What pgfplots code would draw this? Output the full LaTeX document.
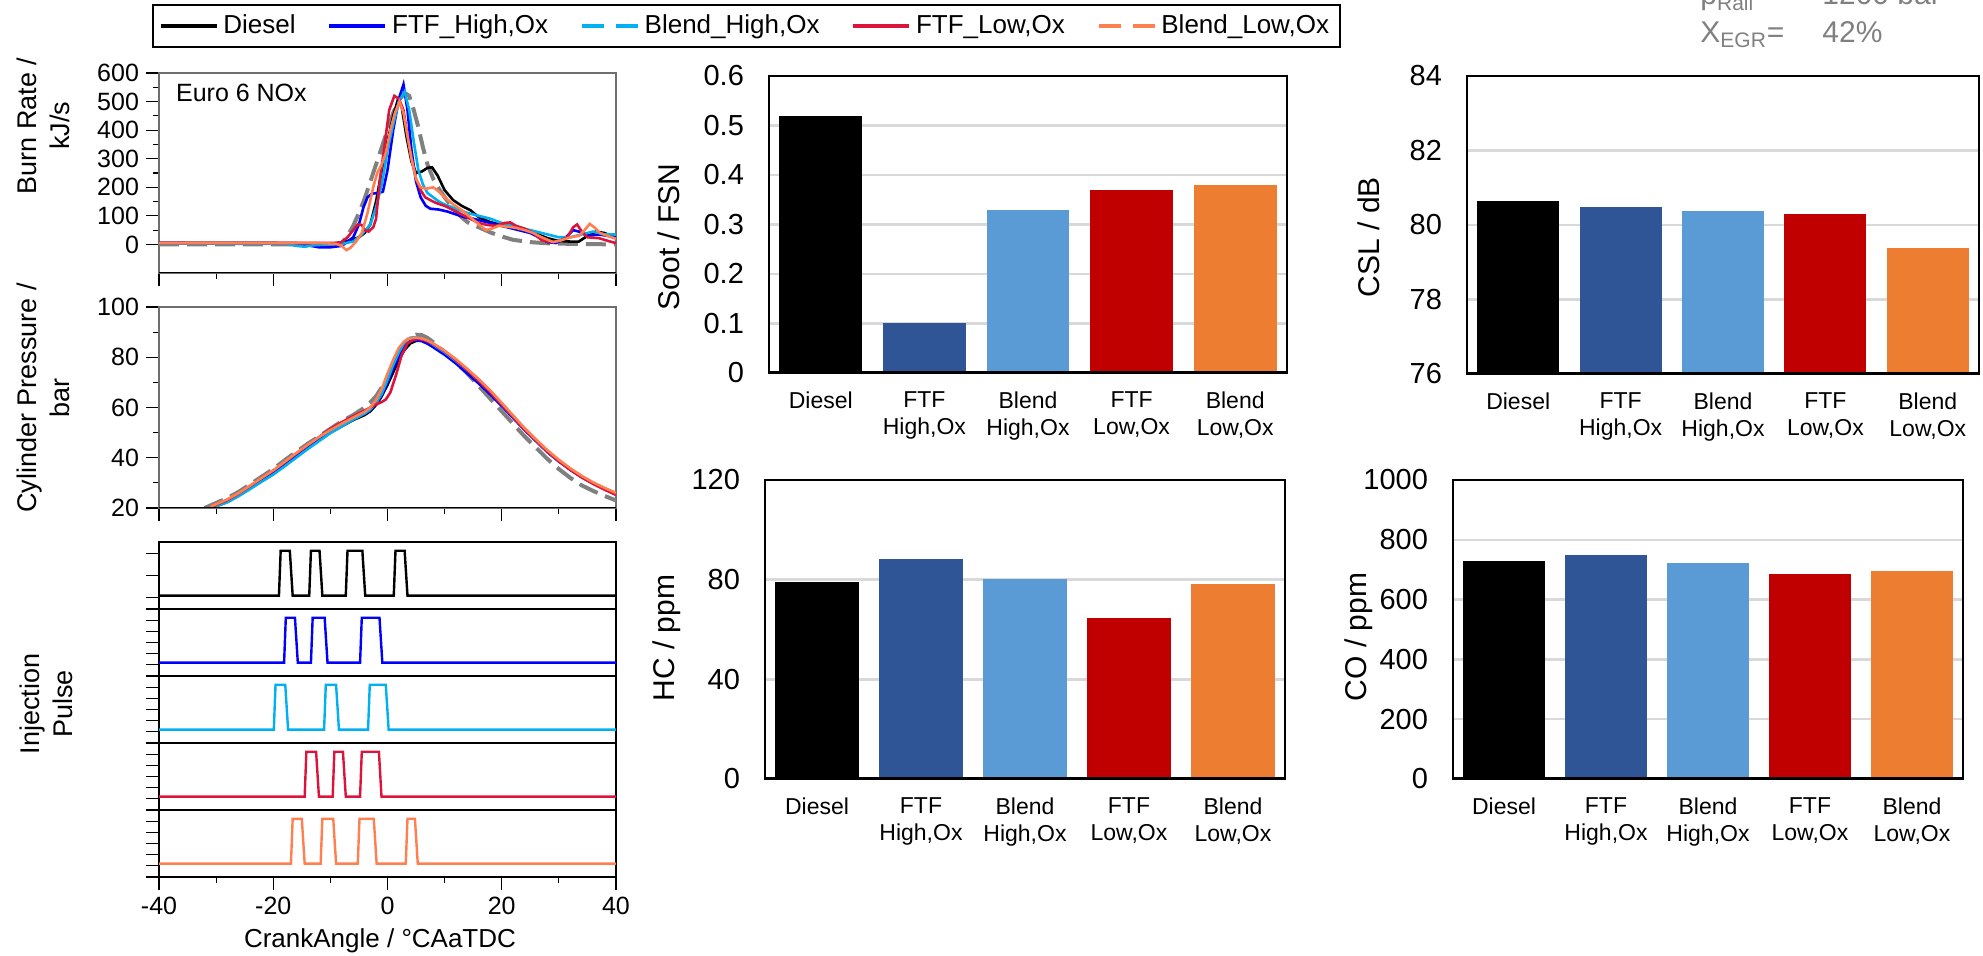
\documentclass[border=0pt]{standalone}
\usepackage{fontspec}
\setmainfont{Liberation Sans}
\usepackage{pgfplots}
\pgfplotsset{compat=1.18}

\definecolor{cFTFH}{RGB}{0,0,255}
\definecolor{cBlH}{RGB}{0,176,240}
\definecolor{cFTFL}{RGB}{220,20,60}
\definecolor{cBlL}{RGB}{255,127,80}
\definecolor{bFTFH}{RGB}{47,85,151}
\definecolor{bBlH}{RGB}{91,155,213}
\definecolor{bFTFL}{RGB}{192,0,0}
\definecolor{bBlL}{RGB}{237,125,49}
\definecolor{refgray}{RGB}{128,128,128}
\definecolor{gridgray}{RGB}{217,217,217}
\definecolor{framegray}{RGB}{110,110,110}

\pgfplotsset{
  leftax/.style={
    scale only axis, width=228.5pt, anchor=south west,
    xmin=-40, xmax=40,
    tick align=outside, xtick pos=bottom, ytick pos=left,
    major tick length=6.5pt, minor tick length=3pt,
    xtick={-40,-20,...,40}, minor xtick={-30,-10,10,30},
    axis line style={draw=framegray, line width=0.6pt},
    every tick/.style={black, line width=0.6pt},
    tick label style={font=\fontsize{12.5}{14}\selectfont},
    /pgf/number format/assume math mode=true,
  },
  pulseax/.style={
    scale only axis, width=228.5pt, height=33.5pt, anchor=south west,
    xmin=-40, xmax=40, ymin=0, ymax=1,
    tick align=outside, ytick pos=left,
    major tick length=6.5pt,
    ytick={0,0.1667,0.3333,0.5,0.6667,0.8333}, yticklabels={},
    xtick=\empty,
    axis line style={draw=black, line width=0.6pt},
    every tick/.style={black, line width=0.6pt},
  },
  barax/.style={
    scale only axis, anchor=south west,
    xmin=-0.5, xmax=4.5, xtick={0,...,4},
    xticklabels={Diesel,{FTF\\High,Ox},{Blend\\High,Ox},{FTF\\Low,Ox},{Blend\\Low,Ox}},
    xticklabel style={align=center, font=\fontsize{11.5}{13.5}\selectfont, anchor=north, yshift=-6pt},
    yticklabel style={font=\fontsize{14.5}{16}\selectfont, xshift=-9pt},
    major tick length=0pt,
    ymajorgrids, grid style={gridgray, line width=1.2pt},
    axis line style={black, line width=1pt},
    /pgf/number format/assume math mode=true,
    /pgf/number format/1000 sep={},
  },
  mybar/.style={ybar, bar width=0.8, draw=none, fill=#1},
}

\begin{document}
\begin{tikzpicture}
\useasboundingbox (0,0) rectangle (991.5pt,-478pt);
\clip (0,0) rectangle (991.5pt,-478pt);

% ---------- burn rate ----------
\begin{axis}[leftax, at={(79.5pt,-136.5pt)}, height=100pt,
  ymin=-100, ymax=600, ytick={0,100,...,600}, minor ytick={50,150,...,550},
  xticklabels={},
  legend columns=5,
  legend image code/.code={\draw[#1] (0pt,0pt) -- (28pt,0pt);},
  legend style={at={(1.2856,1.235)}, anchor=center, draw=black, line width=0.8pt,
    font=\fontsize{13}{15}\selectfont, inner xsep=3pt, inner ysep=3.5pt,
    nodes={inner ysep=1.5pt, inner xsep=2.5pt},
    /tikz/every even column/.append style={column sep=13.5pt}},
  legend cell align=left,
]
\addplot[refgray, line width=2pt, dash pattern=on 10pt off 4pt, forget plot] coordinates {
(-40,0) (-10,0) (-8,5) (-7,30) (-6,65) (-5,110) (-4,160) (-3,220) (-2,280) (-1,340) (0,400) (1,460) (2,505) (3,530) (3.8,520) (4.6,470) (5.4,410) (6.2,340) (7,280) (8,230) (9,195) (10,165) (11,140) (12,115) (13,95) (14,78) (15,68) (16,60) (18,42) (20,28) (22,16) (25,8) (28,4) (32,2) (36,1) (40,0)};
\addplot[black, line width=1.3pt, forget plot] coordinates {
(-40,5) (-20,5) (-12,3) (-9,4) (-7,12) (-5,25) (-4,40) (-3,70) (-2,150) (-1,260) (0,360) (1,450) (1.8,505) (2.5,480) (3.3,380) (4.2,290) (5,250) (6,255) (7,268) (7.8,270) (8.8,240) (10,190) (11.5,155) (13,135) (14.5,120) (16,95) (18,78) (20,68) (22,58) (24,48) (26,38) (28,22) (30,12) (32,10) (33.5,10) (35,30) (36.5,45) (38,40) (40,22)};
\addplot[cFTFH, line width=1.3pt, forget plot] coordinates {
(-40,5) (-16,4) (-14,-3) (-12,-10) (-10,-10) (-8,-5) (-7,10) (-6,25) (-5,70) (-4.2,130) (-3.5,165) (-2.7,178) (-1.5,180) (-0.8,185) (0,260) (1,400) (2,510) (2.8,560) (3.5,470) (4.2,330) (5,220) (5.8,165) (6.7,135) (7.5,125) (9,122) (10.5,115) (12,105) (13.5,95) (15,90) (17,80) (19,70) (21,60) (23,50) (25,40) (26.5,25) (28,8) (29.5,5) (31,20) (32.5,50) (33.5,45) (35,30) (37,35) (38.5,30) (40,25)};
\addplot[cBlH, line width=1.3pt, forget plot] coordinates {
(-40,3) (-18,2) (-16,-5) (-14.5,-8) (-13,-3) (-10,0) (-8,2) (-6,10) (-4.5,35) (-3,70) (-2,130) (-1,210) (0,330) (1,420) (2,500) (3,535) (3.8,470) (4.6,360) (5.4,260) (6.2,210) (7,180) (8,165) (9,150) (10,140) (12,125) (14,110) (16,100) (18,90) (20,75) (22,65) (24,55) (26,45) (28,35) (30,25) (32,25) (34,35) (36,45) (38,35) (40,35)};
\addplot[cFTFL, line width=1.3pt, forget plot] coordinates {
(-40,5) (-12,5) (-9,5) (-8,8) (-7,25) (-6,50) (-5.2,70) (-4.5,68) (-4,50) (-3.3,45) (-2.5,60) (-2,90) (-1.3,230) (-0.5,350) (0.3,470) (1.2,520) (2,510) (2.8,470) (3.5,380) (4.3,290) (5,230) (5.8,190) (6.6,165) (7.5,155) (8.5,145) (10,135) (11.5,120) (13,105) (14.5,90) (16,75) (17.5,68) (19,65) (20.5,75) (21.5,77) (22.5,65) (24,55) (25.5,40) (27,15) (28.5,8) (30,12) (31.5,25) (32.5,60) (33.2,70) (34,45) (35,25) (37,22) (39,10) (40,5)};
\addplot[cBlL, line width=1.3pt, forget plot] coordinates {
(-40,5) (-12,5) (-9,2) (-8,-5) (-7.2,-20) (-6.5,-12) (-5.5,10) (-4.5,40) (-3.5,110) (-2.5,200) (-1.8,250) (-1,280) (-0.3,320) (0.5,400) (1.3,460) (2.1,500) (2.8,460) (3.5,380) (4.2,300) (5,230) (5.8,200) (6.8,195) (8,200) (9,185) (10,165) (11.5,140) (13,120) (14.5,95) (16,70) (17.2,50) (18.2,55) (19.5,65) (21,62) (22.5,58) (24,50) (25.5,40) (27,25) (29,8) (30.5,15) (32,25) (33.5,30) (34.5,50) (35.4,72) (36.2,60) (37.2,40) (38.5,30) (40,20)};
\addlegendimage{black, line width=1.75pt}
\addlegendentry{Diesel}
\addlegendimage{cFTFH, line width=1.75pt}
\addlegendentry{FTF\_High,Ox}
\addlegendimage{cBlH, line width=1.75pt, dash pattern=on 11pt off 6pt}
\addlegendentry{Blend\_High,Ox}
\addlegendimage{cFTFL, line width=1.75pt}
\addlegendentry{FTF\_Low,Ox}
\addlegendimage{cBlL, line width=1.75pt, dash pattern=on 11pt off 6pt}
\addlegendentry{Blend\_Low,Ox}
\draw[black, line width=1pt] (rel axis cs:0,0) -- (rel axis cs:1,0);
\node[anchor=base west, font=\fontsize{12.5}{14}\selectfont] at (rel axis cs:0.022,0.8565) {Euro 6 NOx};
\end{axis}

% ---------- cylinder pressure ----------
\begin{axis}[leftax, at={(79.5pt,-254pt)}, height=100.5pt,
  ymin=20, ymax=100, ytick={20,40,...,100}, minor ytick={30,50,70,90},
  xticklabels={},
]
\addplot[refgray, line width=2pt, dash pattern=on 10pt off 4pt] coordinates {
(-32,20) (-31,21) (-28,24) (-26,26.5) (-24,29.5) (-22,32.5) (-20,35.5) (-18,39) (-16,42.3) (-14,45.5) (-12,48.5) (-10,51.5) (-8,54.5) (-6,57) (-4,60) (-3,62) (-2,64.5) (-1,68) (0,72) (1,77) (2,82) (3,85.5) (4,88) (5,89) (6,88.8) (7,87.7) (8,86) (10,82) (12,78) (14,73.5) (16,68.5) (18,63.5) (20,58.5) (22,53.5) (24,48.5) (26,44) (28,39.5) (30,35.5) (32,32) (34,29) (36,26.8) (38,24.8) (40,23)};
\addplot[black, line width=1.3pt] coordinates {
(-31,19.8) (-28,22.5) (-26,25) (-24,28) (-22,31) (-20,34) (-18,37.3) (-16,40.7) (-14,44) (-12,47) (-10,50) (-8,52.5) (-6,55) (-4,57) (-3,58.5) (-2,61) (-1,64.5) (0,69) (1,74) (2,79) (3,83) (4,85.5) (5,86.5) (6,86.8) (7,86.3) (8,85.2) (10,82.3) (12,78.8) (14,75) (16,71) (18,66.5) (20,61.5) (22,56.5) (24,51.5) (26,47) (28,42.5) (30,38.8) (32,35.5) (34,32.5) (36,30) (38,27.8) (40,25.8)};
\addplot[cFTFH, line width=1.3pt] coordinates {
(-31,20.2) (-28,23) (-26,25.5) (-24,28.5) (-22,31.5) (-20,34.5) (-18,37.8) (-16,41.2) (-14,44.5) (-12,47.5) (-10,50.5) (-8,53) (-6,55.5) (-4,57.5) (-3,59) (-2,61.5) (-1,65) (0,70) (1,75.5) (2,80.5) (3,84.5) (4,86.3) (5,86.8) (6,86.4) (7,85.4) (8,84) (10,81) (12,77.5) (14,73.5) (16,69.5) (18,65.2) (20,60.6) (22,55.8) (24,51) (26,46.6) (28,42.2) (30,38.5) (32,35.2) (34,32.2) (36,29.8) (38,27.6) (40,25.5)};
\addplot[cBlH, line width=1.3pt] coordinates {
(-31,19.8) (-28,22.3) (-26,24.8) (-24,27.6) (-22,30.5) (-20,33.3) (-18,36.6) (-16,40) (-14,43.4) (-12,46.6) (-10,49.8) (-8,52.5) (-6,55.2) (-4,57.6) (-3,59.2) (-2,61.8) (-1,65.5) (0,71) (1,77) (2,82) (3,86) (4,87.8) (5,88) (6,87.5) (7,86.5) (8,85) (10,82) (12,78.5) (14,74.8) (16,70.8) (18,66.3) (20,61.3) (22,56.3) (24,51.3) (26,46.8) (28,42.4) (30,38.7) (32,35.4) (34,32.4) (36,29.9) (38,27.7) (40,25.6)};
\addplot[cFTFL, line width=1.3pt] coordinates {
(-31,20.3) (-28,23.2) (-26,25.8) (-24,28.8) (-22,31.9) (-20,34.9) (-18,38.2) (-16,41.6) (-14,45) (-12,48.2) (-10,51.5) (-8,54.2) (-6,56.5) (-4,58.8) (-3,60) (-2,61.2) (-1,62.2) (-0.3,63.2) (0.5,66) (1.5,73) (2.5,81) (3.5,85.5) (4.5,87) (5.5,87.3) (6.5,86.8) (8,85.3) (10,82.4) (12,78.8) (14,74.8) (16,70.6) (18,66.1) (20,61.2) (22,56.2) (24,51.2) (26,46.8) (28,42.4) (30,38.6) (32,35.2) (34,32.2) (36,29.6) (38,27.3) (40,25.2)};
\addplot[cBlL, line width=1.3pt] coordinates {
(-31,20.5) (-28,23.5) (-26,26) (-24,29) (-22,32) (-20,35) (-18,38.4) (-16,41.8) (-14,45.1) (-12,48.2) (-10,51) (-8,53.6) (-6,56) (-4,58.3) (-3,60) (-2,63) (-1,67.5) (0,73.5) (1,79) (2,83.8) (3,86.5) (4,87.6) (5,87.8) (6,87.5) (7,86.7) (8,85.5) (10,82.6) (12,79.2) (14,75.3) (16,71.2) (18,66.8) (20,61.8) (22,56.8) (24,51.8) (26,47.3) (28,43) (30,39.2) (32,35.8) (34,32.8) (36,30.2) (38,28) (40,26)};
\draw[black, line width=1pt] (rel axis cs:0,0) -- (rel axis cs:1,0);
\end{axis}

% ---------- injection pulses ----------
\begin{axis}[pulseax, at={(79.5pt,-304.5pt)}, ytick={0,0.1667,0.5,0.8333}]
\addplot[black, line width=1.2pt] coordinates {
(-40,0.2) (-19.0,0.2) (-18.7,0.87) (-17.1,0.87) (-16.6,0.2) (-13.7,0.2) (-13.4,0.87) (-11.9,0.87) (-11.4,0.2) (-7.3,0.2) (-7.0,0.87) (-4.4,0.87) (-3.9,0.2) (1.1,0.2) (1.4,0.87) (3.0,0.87) (3.5,0.2) (40,0.2)};
\end{axis}
\begin{axis}[pulseax, at={(79.5pt,-338pt)}]
\addplot[cFTFH, line width=1.2pt] coordinates {
(-40,0.2) (-18.1,0.2) (-17.8,0.87) (-16.2,0.87) (-15.7,0.2) (-13.4,0.2) (-13.1,0.87) (-11.0,0.87) (-10.5,0.2) (-4.8,0.2) (-4.5,0.87) (-1.4,0.87) (-0.9,0.2) (40,0.2)};
\end{axis}
\begin{axis}[pulseax, at={(79.5pt,-371.5pt)}]
\addplot[cBlH, line width=1.2pt] coordinates {
(-40,0.2) (-19.9,0.2) (-19.6,0.87) (-17.9,0.87) (-17.4,0.2) (-11.1,0.2) (-10.8,0.87) (-9.0,0.87) (-8.5,0.2) (-3.4,0.2) (-3.1,0.87) (-0.3,0.87) (0.2,0.2) (40,0.2)};
\end{axis}
\begin{axis}[pulseax, at={(79.5pt,-405pt)}]
\addplot[cFTFL, line width=1.2pt] coordinates {
(-40,0.2) (-14.5,0.2) (-14.2,0.87) (-12.5,0.87) (-12.0,0.2) (-9.6,0.2) (-9.3,0.87) (-7.8,0.87) (-7.3,0.2) (-4.8,0.2) (-4.5,0.87) (-1.5,0.87) (-1.05,0.2) (40,0.2)};
\end{axis}
\begin{axis}[pulseax, at={(79.5pt,-438.5pt)},
  xtick={-40,-20,...,40}, minor xtick={-30,-10,10,30}, xtick pos=bottom,
  minor tick length=3pt,
  xticklabel style={font=\fontsize{12.5}{14}\selectfont},
  /pgf/number format/assume math mode=true]
\addplot[cBlL, line width=1.2pt] coordinates {
(-40,0.2) (-16.9,0.2) (-16.6,0.87) (-15.0,0.87) (-14.5,0.2) (-11.7,0.2) (-11.4,0.87) (-9.5,0.87) (-9.0,0.2) (-5.2,0.2) (-4.9,0.87) (-2.4,0.87) (-1.9,0.2) (3.2,0.2) (3.5,0.87) (4.8,0.87) (5.3,0.2) (40,0.2)};
\end{axis}

% ---------- soot ----------
\begin{axis}[barax, at={(384.5pt,-186.5pt)}, width=259pt, height=148.5pt,
  ymin=0, ymax=0.6, ytick={0,0.1,0.2,0.3,0.4,0.5,0.6}]
\addplot[mybar=black] coordinates {(0,0.52)};
\addplot[mybar=bFTFH] coordinates {(1,0.10)};
\addplot[mybar=bBlH] coordinates {(2,0.33)};
\addplot[mybar=bFTFL] coordinates {(3,0.37)};
\addplot[mybar=bBlL] coordinates {(4,0.38)};
\draw[black, line width=1pt] (rel axis cs:0,0) rectangle (rel axis cs:1,1);
\draw[black, line width=1.5pt] (rel axis cs:0,0) -- (rel axis cs:1,0);
\end{axis}

% ---------- CSL ----------
\begin{axis}[barax, at={(733.5pt,-187pt)}, width=256pt, height=149pt,
  ymin=76, ymax=84, ytick={76,78,80,82,84}]
\addplot[mybar=black] coordinates {(0,80.65)};
\addplot[mybar=bFTFH] coordinates {(1,80.49)};
\addplot[mybar=bBlH] coordinates {(2,80.38)};
\addplot[mybar=bFTFL] coordinates {(3,80.30)};
\addplot[mybar=bBlL] coordinates {(4,79.39)};
\draw[black, line width=1pt] (rel axis cs:0,0) rectangle (rel axis cs:1,1);
\draw[black, line width=1.5pt] (rel axis cs:0,0) -- (rel axis cs:1,0);
\end{axis}

% ---------- HC ----------
\begin{axis}[barax, at={(382.5pt,-389.5pt)}, width=260pt, height=149.5pt,
  ymin=0, ymax=120, ytick={0,40,80,120}]
\addplot[mybar=black] coordinates {(0,79.1)};
\addplot[mybar=bFTFH] coordinates {(1,88.4)};
\addplot[mybar=bBlH] coordinates {(2,80.3)};
\addplot[mybar=bFTFL] coordinates {(3,64.7)};
\addplot[mybar=bBlL] coordinates {(4,78.3)};
\draw[black, line width=1pt] (rel axis cs:0,0) rectangle (rel axis cs:1,1);
\draw[black, line width=1.5pt] (rel axis cs:0,0) -- (rel axis cs:1,0);
\end{axis}

% ---------- CO ----------
\begin{axis}[barax, at={(726.5pt,-389.5pt)}, width=255pt, height=149.5pt,
  ymin=0, ymax=1000, ytick={0,200,...,1000}]
\addplot[mybar=black] coordinates {(0,728)};
\addplot[mybar=bFTFH] coordinates {(1,748)};
\addplot[mybar=bBlH] coordinates {(2,721)};
\addplot[mybar=bFTFL] coordinates {(3,684)};
\addplot[mybar=bBlL] coordinates {(4,694)};
\draw[black, line width=1pt] (rel axis cs:0,0) rectangle (rel axis cs:1,1);
\draw[black, line width=1.5pt] (rel axis cs:0,0) -- (rel axis cs:1,0);
\end{axis}

% ---------- labels ----------
\begin{scope}[every node/.style={rotate=90, align=center}]
\node[font=\fontsize{13.5}{16.5}\selectfont] at (21.5pt,-63pt) {Burn Rate /\\kJ/s};
\node[font=\fontsize{13.5}{16.5}\selectfont] at (21.5pt,-199pt) {Cylinder Pressure /\\bar};
\node[font=\fontsize{13.5}{16.5}\selectfont] at (23.25pt,-352pt) {Injection\\Pulse};
\node[font=\fontsize{15}{17}\selectfont] at (334.5pt,-118.5pt) {Soot / FSN};
\node[font=\fontsize{15}{17}\selectfont] at (333.5pt,-319pt) {HC / ppm};
\node[font=\fontsize{15}{17}\selectfont] at (684.5pt,-118.5pt) {CSL / dB};
\node[font=\fontsize{15}{17}\selectfont] at (679.5pt,-318.5pt) {CO / ppm};
\end{scope}
\node[anchor=base, font=\fontsize{13}{15}\selectfont] at (190pt,-474pt) {CrankAngle / °CAaTDC};

\begin{scope}[every node/.style={anchor=base west, text=refgray, font=\fontsize{15}{17}\selectfont, inner sep=0pt}]
\node at (850pt,-2.5pt) {p\textsubscript{Rail}=};
\node at (911pt,-2.5pt) {1200 bar};
\node at (850pt,-21.5pt) {X\textsubscript{EGR}=};
\node at (911pt,-21.5pt) {42\%};
\end{scope}
\end{tikzpicture}
\end{document}
